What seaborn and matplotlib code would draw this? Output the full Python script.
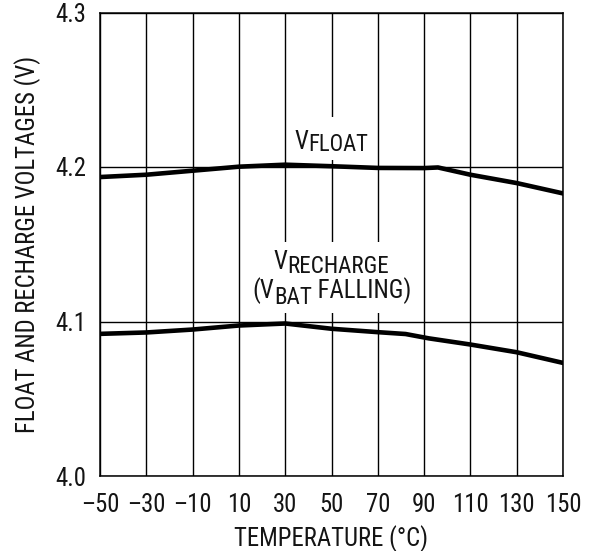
import matplotlib
matplotlib.use("Agg")
import matplotlib.pyplot as plt
from matplotlib.patches import Rectangle
from matplotlib.transforms import offset_copy
import seaborn as sns
import pandas as pd

# Float voltage vs temperature
float_temp = [-50, -30, -10, 10, 30, 50, 70, 90, 96, 110, 130, 150]
float_volt = [4.1935, 4.1950, 4.1976, 4.2002, 4.2015, 4.2005, 4.1994, 4.1993,
              4.1997, 4.1950, 4.1896, 4.1829]

# Recharge threshold (VBAT falling) vs temperature
rech_temp = [-50, -30, -10, 10, 30, 50, 70, 82, 92, 110, 130, 150]
rech_volt = [4.0920, 4.0929, 4.0948, 4.0974, 4.0987, 4.0953, 4.0931, 4.0919,
             4.0891, 4.0851, 4.0801, 4.0732]

x_ticks = [-50, -30, -10, 10, 30, 50, 70, 90, 110, 130, 150]
x_tick_labels = ["–50", "–30", "–10", "10", "30", "50", "70", "90", "110", "130", "150"]
y_ticks = [4.0, 4.1, 4.2, 4.3]
y_tick_labels = ["4.0", "4.1", "4.2", "4.3"]

sns.set_theme(style="white")
FONT = ["Roboto Condensed", "Liberation Sans", "DejaVu Sans"]
plt.rcParams["font.family"] = FONT
INK = "#141414"
FS = 17.8

df = pd.concat([
    pd.DataFrame({"temp": float_temp, "volt": float_volt, "series": "float"}),
    pd.DataFrame({"temp": rech_temp, "volt": rech_volt, "series": "recharge"}),
])

fig = plt.figure(figsize=(5.97, 5.51), dpi=100)
ax = fig.add_axes([100 / 597, 1 - 476 / 551, 463 / 597, 463.5 / 551])

sns.lineplot(data=df, x="temp", y="volt", units="series", estimator=None,
             color="black", linewidth=3.3, ax=ax, zorder=3, legend=False)

ax.set_xlim(-50, 150)
ax.set_ylim(4.0, 4.3)
ax.set_xticks(x_ticks)
ax.set_xticklabels(x_tick_labels)
ax.set_yticks(y_ticks)
ax.set_yticklabels(y_tick_labels)
ax.tick_params(axis="both", length=0, labelsize=FS, colors=INK)
ax.tick_params(axis="x", pad=12)
ax.tick_params(axis="y", pad=10)
ax.set_axisbelow(True)
ax.grid(True, color="black", linewidth=1.0)
for sp in ax.spines.values():
    sp.set_color("black")
    sp.set_linewidth(1.1)

ax.set_xlabel("TEMPERATURE (°C)", fontsize=FS, color=INK, labelpad=6)
ax.set_ylabel("FLOAT AND RECHARGE VOLTAGES (V)", fontsize=FS, color=INK, labelpad=10)

# White label backgrounds that break the grid behind the curve labels
ax.add_patch(Rectangle((33, 4.2045), 34, 0.028, facecolor="white",
                       edgecolor="none", zorder=1))
ax.add_patch(Rectangle((15, 4.1058), 70, 0.0455, facecolor="white",
                       edgecolor="none", zorder=1))

renderer = fig.canvas.get_renderer()


def sub_label(x, y, parts):
    """Draw a centered run of text pieces, each with its own size and baseline shift."""
    widths = []
    for s, dy, size in parts:
        t = ax.text(0, 0, s, fontsize=size)
        widths.append(t.get_window_extent(renderer).width * 72 / fig.dpi)
        t.remove()
    cur = -sum(widths) / 2
    for (s, dy, size), w in zip(parts, widths):
        tr = offset_copy(ax.transData, fig=fig, x=cur, y=dy, units="points")
        ax.text(x, y, s, transform=tr, fontsize=size, color=INK,
                ha="left", va="baseline", zorder=4)
        cur += w


sub_label(50, 4.2117, [("V", 0, FS), ("FLOAT", -1.3, 16.3)])
sub_label(50, 4.1342, [("V", 0, FS), ("RECHARGE", -3.0, 16.6)])
sub_label(50, 4.1152, [("(V", 0, FS), ("BAT", -4.3, 16.6), (" FALLING)", 0, FS)])

fig.savefig("out.png", dpi=100)
